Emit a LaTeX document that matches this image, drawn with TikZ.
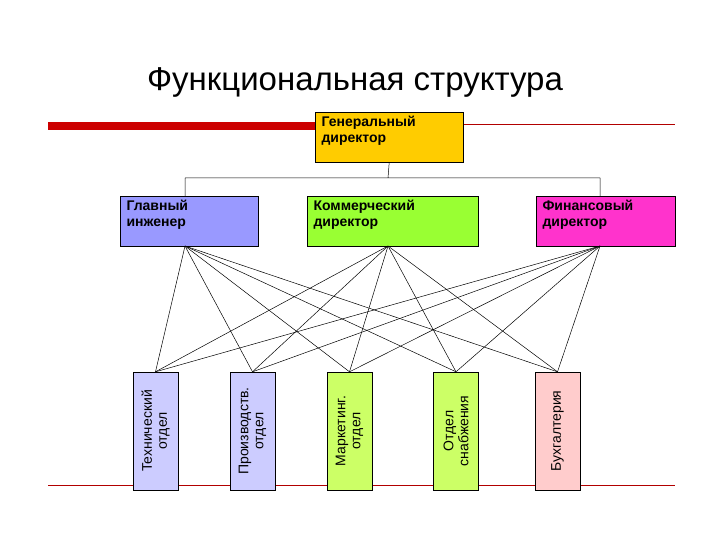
\documentclass[tikz,border=0pt]{standalone}
\usepackage{fontspec}
\setmainfont{Liberation Sans}
\begin{document}
\begin{tikzpicture}[x=1pt,y=-1pt,
  top/.style={draw,anchor=north west,minimum height=50pt,align=left,text depth=0pt,
    font=\bfseries\fontsize{14}{14}\selectfont,inner sep=0pt},
  low/.style={draw,anchor=north west,minimum height=45pt,minimum width=118pt,rotate=90,
    font=\fontsize{14}{15}\selectfont,align=center,inner sep=0pt},
  ln/.style={line width=0.5pt}]
\useasboundingbox (0,0) rectangle (720,540);
\node (title) at (355,82) {\fontsize{33}{33}\selectfont Функциональная структура};
\fill[red!80!black] (48,122) rectangle (315,130);
\draw[red!70!black,line width=0.5pt] (463,124) -- (675,124);
\draw[red!70!black,line width=0.6pt] (48,485) -- (675,485);
\node[top,fill={rgb,255:red,255;green,204;blue,0},minimum width=148pt] (gd) at (315,112) {};
\node[anchor=north west,font=\bfseries\fontsize{14}{16}\selectfont,align=left] at (318,113) {Генеральный\\директор};
\node[top,fill={rgb,255:red,153;green,153;blue,255},minimum width=138pt] (gi) at (120,196) {};
\node[anchor=north west,font=\bfseries\fontsize{14}{16}\selectfont,align=left] at (123,197) {Главный\\инженер};
\node[top,fill={rgb,255:red,153;green,255;blue,51},minimum width=171pt] (kd) at (307,196) {};
\node[anchor=north west,font=\bfseries\fontsize{14}{16}\selectfont,align=left] at (310,197) {Коммерческий\\директор};
\node[top,fill={rgb,255:red,255;green,51;blue,204},minimum width=139pt] (fd) at (536,196) {};
\node[anchor=north west,font=\bfseries\fontsize{14}{16}\selectfont,align=left] at (539,197) {Финансовый\\директор};
\coordinate (hl) at (185,178); \coordinate (hc) at (388,178); \coordinate (hr) at (600,178);
\draw[ln] (gd.south) -- (hc) (hl) -- (hr) (hl) -- (185,196) (hr) -- (600,196);
\coordinate (u1) at (185,246); \coordinate (u2) at (388,246); \coordinate (u3) at (600,246);
\node[draw,fill={rgb,255:red,204;green,204;blue,255},minimum width=45pt,minimum height=118pt,inner sep=0pt] (b1) at (155.5,431) {};
\node[rotate=90,font=\fontsize{14}{15}\selectfont,align=center] at (b1) {Технический\\отдел};
\node[draw,fill={rgb,255:red,204;green,204;blue,255},minimum width=45pt,minimum height=118pt,inner sep=0pt] (b2) at (252.5,431) {};
\node[rotate=90,font=\fontsize{14}{15}\selectfont,align=center] at (b2) {Производств.\\отдел};
\node[draw,fill={rgb,255:red,204;green,255;blue,102},minimum width=45pt,minimum height=118pt,inner sep=0pt] (b3) at (349.5,431) {};
\node[rotate=90,font=\fontsize{14}{15}\selectfont,align=center] at (b3) {Маркетинг.\\отдел};
\node[draw,fill={rgb,255:red,204;green,255;blue,102},minimum width=45pt,minimum height=118pt,inner sep=0pt] (b4) at (456,431) {};
\node[rotate=90,font=\fontsize{14}{15}\selectfont,align=center] at (b4) {Отдел\\снабжения};
\node[draw,fill={rgb,255:red,255;green,204;blue,204},minimum width=45pt,minimum height=118pt,inner sep=0pt] (b5) at (557.5,431) {};
\node[rotate=90,font=\fontsize{14}{15}\selectfont,align=center] at (b5) {Бухгалтерия};
\foreach \u in {u1,u2,u3}{\foreach \b in {b1,b2,b3,b4,b5}{\draw[ln] (\u) -- (\b.north);}}
\end{tikzpicture}
\end{document}
